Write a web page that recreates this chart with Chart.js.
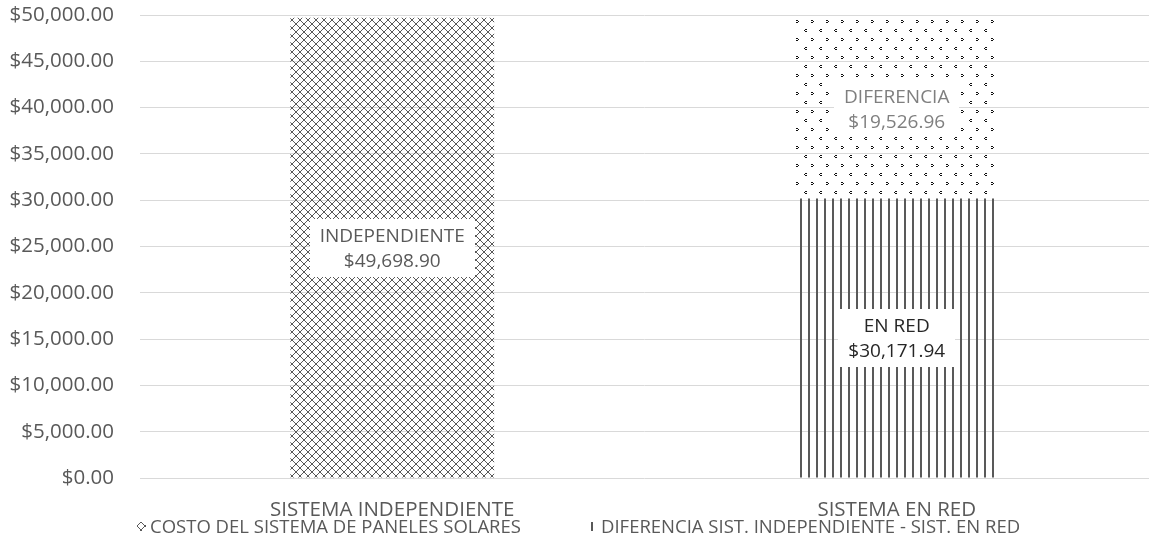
<!DOCTYPE html>
<html>
<head>
<meta charset="utf-8">
<script src="https://cdn.jsdelivr.net/npm/chart.js@4.4.1/dist/chart.umd.min.js"></script>
<style>
  html, body { margin: 0; padding: 0; background: #ffffff; }
  #wrap { width: 1149px; height: 543px; position: relative; overflow: hidden; }
  #legend { position: absolute; left: 0; top: 514px; width: 1149px; height: 24px;
            font-family: 'Open Sans', 'Noto Sans', sans-serif; font-size: 18.5px; color: #595959;
            line-height: 24px; white-space: nowrap; }
  #legend .item { position: absolute; top: 0; }
  #legend canvas { vertical-align: middle; margin-right: 4px; position: relative; top: -2px; }
</style>
</head>
<body>
<div id="wrap">
  <canvas id="c" width="1149" height="543"></canvas>
  <div id="legend"></div>
</div>
<script>
// Categories and values
const categories = ['SISTEMA INDEPENDIENTE', 'SISTEMA EN RED'];
const seriesNames = ['COSTO DEL SISTEMA DE PANELES SOLARES', 'DIFERENCIA SIST. INDEPENDIENTE - SIST. EN RED'];
const costoSistema = [49698.90, 30171.94];
const diferencia = [0, 19526.96];
// Captions shown on each segment (series x category)
const costoCaptions = ['INDEPENDIENTE', 'EN RED'];
const diferenciaCaptions = ['', 'DIFERENCIA'];
const yTicks = [0, 5000, 10000, 15000, 20000, 25000, 30000, 35000, 40000, 45000, 50000];

const FONT = "'Open Sans', 'Noto Sans', sans-serif";
const GRAY = '#595959';

function makeTile(w, h, draw) {
  const t = document.createElement('canvas');
  t.width = w; t.height = h;
  const g = t.getContext('2d');
  draw(g);
  return t;
}
// diamond lattice
const crossTile = makeTile(8, 8, g => {
  g.fillStyle = GRAY;
  for (let i = 0; i < 8; i++) { g.fillRect(i, i, 1, 1); g.fillRect(7 - i, i, 1, 1); }
});
// vertical stripes
const vertTile = makeTile(8, 4, g => {
  g.fillStyle = GRAY;
  g.fillRect(0, 0, 2, 4);
});
// scattered small chevrons, alternating direction by row
const dotTile = makeTile(15, 18, g => {
  g.fillStyle = '#111111';
  g.fillRect(1, 2, 2, 1); g.fillRect(3, 3, 1, 1); g.fillRect(1, 4, 2, 1);
  g.fillRect(10, 11, 2, 1); g.fillRect(9, 12, 1, 1); g.fillRect(10, 13, 2, 1);
});
const mainCtx = document.getElementById('c').getContext('2d');
const crossPattern = mainCtx.createPattern(crossTile, 'repeat');
const vertPattern = mainCtx.createPattern(vertTile, 'repeat');
const dotPattern = mainCtx.createPattern(dotTile, 'repeat');

const currency = v => '$' + v.toLocaleString('en-US', { minimumFractionDigits: 2, maximumFractionDigits: 2 });

const segmentLabels = {
  id: 'segmentLabels',
  afterDatasetsDraw(chart) {
    const ctx = chart.ctx;
    const captions = [costoCaptions, diferenciaCaptions];
    const colors = [['#595959', '#262626'], ['#595959', '#7f7f7f']];
    chart.data.datasets.forEach((ds, di) => {
      const meta = chart.getDatasetMeta(di);
      meta.data.forEach((bar, i) => {
        const v = ds.data[i];
        if (!v) return;
        const cy = (bar.y + bar.base) / 2;
        const lines = [captions[di][i], currency(v)];
        ctx.save();
        ctx.font = '19px ' + FONT;
        const w = Math.max(...lines.map(l => ctx.measureText(l).width)) + 20;
        const h = 58;
        ctx.fillStyle = '#ffffff';
        ctx.fillRect(Math.round(bar.x - w / 2), Math.round(cy - h / 2), Math.round(w), h);
        ctx.fillStyle = colors[di][i];
        ctx.textAlign = 'center';
        ctx.textBaseline = 'middle';
        ctx.fillText(lines[0], bar.x, cy - 11);
        ctx.fillText(lines[1], bar.x, cy + 14);
        ctx.restore();
      });
    });
  }
};

new Chart(document.getElementById('c'), {
  type: 'bar',
  data: {
    labels: categories,
    datasets: [
      { label: seriesNames[0], data: costoSistema, backgroundColor: [crossPattern, vertPattern], borderWidth: 0 },
      { label: seriesNames[1], data: diferencia, backgroundColor: [dotPattern, dotPattern], borderWidth: 0 }
    ]
  },
  options: {
    responsive: false,
    animation: false,
    devicePixelRatio: 1,
    layout: { padding: { left: 0, right: 0, top: 15, bottom: 15 } },
    datasets: { bar: { categoryPercentage: 1, barPercentage: 0.404 } },
    scales: {
      x: {
        stacked: true,
        grid: { display: false },
        border: { display: false },
        ticks: { color: GRAY, font: { family: FONT, size: 20.5 }, padding: 12 },
        afterFit: axis => { axis.height = 50; axis.paddingLeft = 0; axis.paddingRight = 0; }
      },
      y: {
        stacked: true,
        min: 0, max: 50000,
        afterBuildTicks: axis => { axis.ticks = yTicks.map(v => ({ value: v })); },
        afterFit: axis => { axis.width = 140; axis.paddingTop = 0; axis.paddingBottom = 0; },
        grid: { color: '#d9d9d9', lineWidth: 1, drawTicks: false },
        border: { display: false },
        ticks: { color: GRAY, font: { family: FONT, size: 20.5 }, padding: 26, callback: v => currency(v) }
      }
    },
    plugins: {
      tooltip: { enabled: false },
      legend: { display: false }
    }
  },
  plugins: [segmentLabels]
});

// legend with small pattern swatches
const legendEl = document.getElementById('legend');
const legendTiles = [crossTile, vertTile];
const legendShift = [4, 3];
const legendLeft = [137, 588];
seriesNames.forEach((name, i) => {
  const item = document.createElement('span');
  item.className = 'item';
  item.style.left = legendLeft[i] + 'px';
  const sw = document.createElement('canvas');
  sw.width = 9; sw.height = 9;
  const g = sw.getContext('2d');
  g.translate(legendShift[i], 0);
  g.fillStyle = g.createPattern(legendTiles[i], 'repeat');
  g.fillRect(-legendShift[i], 0, 9, 9);
  item.appendChild(sw);
  item.appendChild(document.createTextNode(name));
  legendEl.appendChild(item);
});
</script>
</body>
</html>
